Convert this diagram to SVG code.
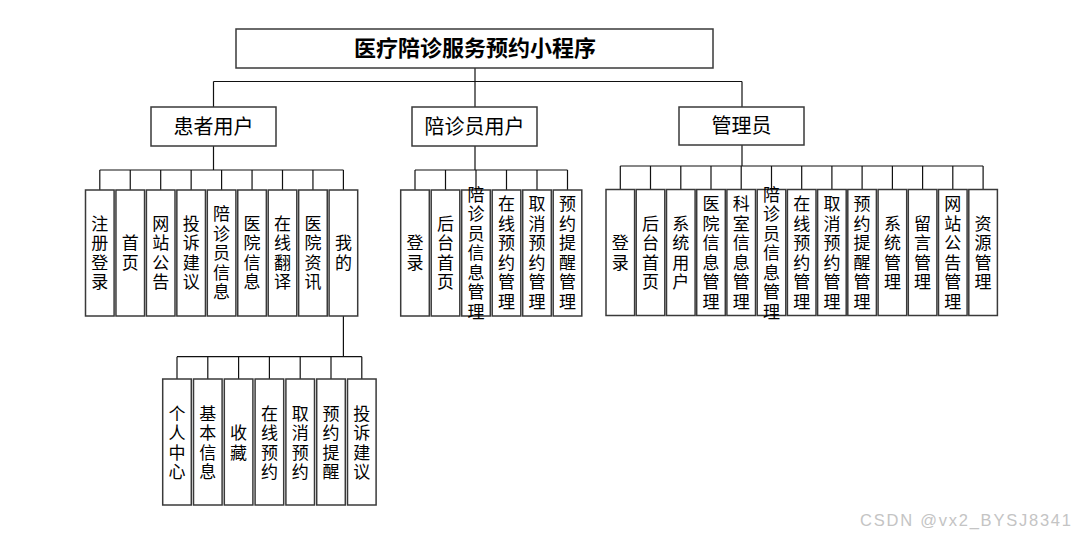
<svg xmlns="http://www.w3.org/2000/svg" width="1079" height="537" viewBox="0 0 1079 537">
<style>
.box{fill:#fff;stroke:#3a3a3a;stroke-width:1.5}
.ln{fill:none;stroke:#111;stroke-width:1.2}
.t{font-family:"Noto Sans CJK SC","Liberation Sans",sans-serif;font-size:17px;fill:#000;text-anchor:middle}
.h{font-family:"Noto Sans CJK SC","Liberation Sans",sans-serif;font-size:20px;fill:#000;text-anchor:middle}
.ti{font-family:"Noto Sans CJK SC","Liberation Sans",sans-serif;font-size:22px;font-weight:bold;fill:#000;text-anchor:middle}
.wm{font-family:"Liberation Sans",Arial,sans-serif;font-size:16.5px;fill:#c4c4c4}
</style>
<rect width="1079" height="537" fill="#fff"/>
<g id="connectors">
<path class="ln" d="M475 68V107M213.5 81.5H742M213.5 81.5V107M742 81.5V107"/>
<path class="ln" d="M213.5 146V170M99.8 170H343.4M99.8 170V190M130.25 170V190M160.7 170V190M191.15 170V190M221.6 170V190M252.05 170V190M282.5 170V190M312.95 170V190M343.4 170V190"/>
<path class="ln" d="M475 146V170M415 170H567.5M415 170V190M445.5 170V190M476 170V190M506.5 170V190M537 170V190M567.5 170V190"/>
<path class="ln" d="M742 145V166M620.3 166H983.1M620.3 166V189.5M650.5 166V189.5M680.8 166V189.5M711 166V189.5M741.2 166V189.5M771.5 166V189.5M801.7 166V189.5M831.9 166V189.5M862.1 166V189.5M892.4 166V189.5M922.6 166V189.5M952.8 166V189.5M983.1 166V189.5"/>
<path class="ln" d="M343.4 316V356.7M177 356.7H361.8M177 356.7V379M207.8 356.7V379M238.6 356.7V379M269.4 356.7V379M300.2 356.7V379M331 356.7V379M361.8 356.7V379"/>
</g>
<g id="root"><rect class="box" x="236" y="29" width="477" height="39"/><text class="ti" x="475" y="56">医疗陪诊服务预约小程序</text></g>
<g id="patient"><rect class="box" x="151" y="107" width="125" height="39"/><text class="h" x="213.5" y="133.5">患者用户</text></g>
<g id="companion"><rect class="box" x="412" y="107" width="125" height="39"/><text class="h" x="474.5" y="133.5">陪诊员用户</text></g>
<g id="admin"><rect class="box" x="679" y="107" width="125" height="38"/><text class="h" x="741.5" y="133">管理员</text></g>

<g id="p1"><rect class="box" x="85.5" y="190" width="28.6" height="126"/><text class="t" x="99.8" y="229.75"><tspan x="99.8">注</tspan><tspan x="99.8" dy="19.5">册</tspan><tspan x="99.8" dy="19.5">登</tspan><tspan x="99.8" dy="19.5">录</tspan></text></g>
<g id="p2"><rect class="box" x="115.95" y="190" width="28.6" height="126"/><text class="t" x="130.25" y="249.25"><tspan x="130.25">首</tspan><tspan x="130.25" dy="19.5">页</tspan></text></g>
<g id="p3"><rect class="box" x="146.4" y="190" width="28.6" height="126"/><text class="t" x="160.7" y="229.75"><tspan x="160.7">网</tspan><tspan x="160.7" dy="19.5">站</tspan><tspan x="160.7" dy="19.5">公</tspan><tspan x="160.7" dy="19.5">告</tspan></text></g>
<g id="p4"><rect class="box" x="176.85" y="190" width="28.6" height="126"/><text class="t" x="191.15" y="229.75"><tspan x="191.15">投</tspan><tspan x="191.15" dy="19.5">诉</tspan><tspan x="191.15" dy="19.5">建</tspan><tspan x="191.15" dy="19.5">议</tspan></text></g>
<g id="p5"><rect class="box" x="207.3" y="190" width="28.6" height="126"/><text class="t" x="221.6" y="220"><tspan x="221.6">陪</tspan><tspan x="221.6" dy="19.5">诊</tspan><tspan x="221.6" dy="19.5">员</tspan><tspan x="221.6" dy="19.5">信</tspan><tspan x="221.6" dy="19.5">息</tspan></text></g>
<g id="p6"><rect class="box" x="237.75" y="190" width="28.6" height="126"/><text class="t" x="252.05" y="229.75"><tspan x="252.05">医</tspan><tspan x="252.05" dy="19.5">院</tspan><tspan x="252.05" dy="19.5">信</tspan><tspan x="252.05" dy="19.5">息</tspan></text></g>
<g id="p7"><rect class="box" x="268.2" y="190" width="28.6" height="126"/><text class="t" x="282.5" y="229.75"><tspan x="282.5">在</tspan><tspan x="282.5" dy="19.5">线</tspan><tspan x="282.5" dy="19.5">翻</tspan><tspan x="282.5" dy="19.5">译</tspan></text></g>
<g id="p8"><rect class="box" x="298.65" y="190" width="28.6" height="126"/><text class="t" x="312.95" y="229.75"><tspan x="312.95">医</tspan><tspan x="312.95" dy="19.5">院</tspan><tspan x="312.95" dy="19.5">资</tspan><tspan x="312.95" dy="19.5">讯</tspan></text></g>
<g id="p9"><rect class="box" x="329.1" y="190" width="28.6" height="126"/><text class="t" x="343.4" y="249.25"><tspan x="343.4">我</tspan><tspan x="343.4" dy="19.5">的</tspan></text></g>

<g id="s1"><rect class="box" x="162.7" y="379" width="28.6" height="126"/><text class="t" x="177" y="419.75"><tspan x="177">个</tspan><tspan x="177" dy="19.5">人</tspan><tspan x="177" dy="19.5">中</tspan><tspan x="177" dy="19.5">心</tspan></text></g>
<g id="s2"><rect class="box" x="193.5" y="379" width="28.6" height="126"/><text class="t" x="207.8" y="419.75"><tspan x="207.8">基</tspan><tspan x="207.8" dy="19.5">本</tspan><tspan x="207.8" dy="19.5">信</tspan><tspan x="207.8" dy="19.5">息</tspan></text></g>
<g id="s3"><rect class="box" x="224.3" y="379" width="28.6" height="126"/><text class="t" x="238.6" y="439.25"><tspan x="238.6">收</tspan><tspan x="238.6" dy="19.5">藏</tspan></text></g>
<g id="s4"><rect class="box" x="255.1" y="379" width="28.6" height="126"/><text class="t" x="269.4" y="419.75"><tspan x="269.4">在</tspan><tspan x="269.4" dy="19.5">线</tspan><tspan x="269.4" dy="19.5">预</tspan><tspan x="269.4" dy="19.5">约</tspan></text></g>
<g id="s5"><rect class="box" x="285.9" y="379" width="28.6" height="126"/><text class="t" x="300.2" y="419.75"><tspan x="300.2">取</tspan><tspan x="300.2" dy="19.5">消</tspan><tspan x="300.2" dy="19.5">预</tspan><tspan x="300.2" dy="19.5">约</tspan></text></g>
<g id="s6"><rect class="box" x="316.7" y="379" width="28.6" height="126"/><text class="t" x="331" y="419.75"><tspan x="331">预</tspan><tspan x="331" dy="19.5">约</tspan><tspan x="331" dy="19.5">提</tspan><tspan x="331" dy="19.5">醒</tspan></text></g>
<g id="s7"><rect class="box" x="347.5" y="379" width="28.6" height="126"/><text class="t" x="361.8" y="419.75"><tspan x="361.8">投</tspan><tspan x="361.8" dy="19.5">诉</tspan><tspan x="361.8" dy="19.5">建</tspan><tspan x="361.8" dy="19.5">议</tspan></text></g>

<g id="c1"><rect class="box" x="400.7" y="190" width="28.6" height="126"/><text class="t" x="415" y="249.25"><tspan x="415">登</tspan><tspan x="415" dy="19.5">录</tspan></text></g>
<g id="c2"><rect class="box" x="431.2" y="190" width="28.6" height="126"/><text class="t" x="445.5" y="229.75"><tspan x="445.5">后</tspan><tspan x="445.5" dy="19.5">台</tspan><tspan x="445.5" dy="19.5">首</tspan><tspan x="445.5" dy="19.5">页</tspan></text></g>
<g id="c3"><rect class="box" x="461.7" y="190" width="28.6" height="126"/><text class="t" x="476" y="200.5"><tspan x="476">陪</tspan><tspan x="476" dy="19.5">诊</tspan><tspan x="476" dy="19.5">员</tspan><tspan x="476" dy="19.5">信</tspan><tspan x="476" dy="19.5">息</tspan><tspan x="476" dy="19.5">管</tspan><tspan x="476" dy="19.5">理</tspan></text></g>
<g id="c4"><rect class="box" x="492.2" y="190" width="28.6" height="126"/><text class="t" x="506.5" y="210.25"><tspan x="506.5">在</tspan><tspan x="506.5" dy="19.5">线</tspan><tspan x="506.5" dy="19.5">预</tspan><tspan x="506.5" dy="19.5">约</tspan><tspan x="506.5" dy="19.5">管</tspan><tspan x="506.5" dy="19.5">理</tspan></text></g>
<g id="c5"><rect class="box" x="522.7" y="190" width="28.6" height="126"/><text class="t" x="537" y="210.25"><tspan x="537">取</tspan><tspan x="537" dy="19.5">消</tspan><tspan x="537" dy="19.5">预</tspan><tspan x="537" dy="19.5">约</tspan><tspan x="537" dy="19.5">管</tspan><tspan x="537" dy="19.5">理</tspan></text></g>
<g id="c6"><rect class="box" x="553.2" y="190" width="28.6" height="126"/><text class="t" x="567.5" y="210.25"><tspan x="567.5">预</tspan><tspan x="567.5" dy="19.5">约</tspan><tspan x="567.5" dy="19.5">提</tspan><tspan x="567.5" dy="19.5">醒</tspan><tspan x="567.5" dy="19.5">管</tspan><tspan x="567.5" dy="19.5">理</tspan></text></g>

<g id="a1"><rect class="box" x="606" y="189.5" width="28.6" height="126"/><text class="t" x="620.3" y="249.25"><tspan x="620.3">登</tspan><tspan x="620.3" dy="19.5">录</tspan></text></g>
<g id="a2"><rect class="box" x="636.2" y="189.5" width="28.6" height="126"/><text class="t" x="650.5" y="229.75"><tspan x="650.5">后</tspan><tspan x="650.5" dy="19.5">台</tspan><tspan x="650.5" dy="19.5">首</tspan><tspan x="650.5" dy="19.5">页</tspan></text></g>
<g id="a3"><rect class="box" x="666.5" y="189.5" width="28.6" height="126"/><text class="t" x="680.8" y="229.75"><tspan x="680.8">系</tspan><tspan x="680.8" dy="19.5">统</tspan><tspan x="680.8" dy="19.5">用</tspan><tspan x="680.8" dy="19.5">户</tspan></text></g>
<g id="a4"><rect class="box" x="696.7" y="189.5" width="28.6" height="126"/><text class="t" x="711" y="210.25"><tspan x="711">医</tspan><tspan x="711" dy="19.5">院</tspan><tspan x="711" dy="19.5">信</tspan><tspan x="711" dy="19.5">息</tspan><tspan x="711" dy="19.5">管</tspan><tspan x="711" dy="19.5">理</tspan></text></g>
<g id="a5"><rect class="box" x="726.9" y="189.5" width="28.6" height="126"/><text class="t" x="741.2" y="210.25"><tspan x="741.2">科</tspan><tspan x="741.2" dy="19.5">室</tspan><tspan x="741.2" dy="19.5">信</tspan><tspan x="741.2" dy="19.5">息</tspan><tspan x="741.2" dy="19.5">管</tspan><tspan x="741.2" dy="19.5">理</tspan></text></g>
<g id="a6"><rect class="box" x="757.2" y="189.5" width="28.6" height="126"/><text class="t" x="771.5" y="200.5"><tspan x="771.5">陪</tspan><tspan x="771.5" dy="19.5">诊</tspan><tspan x="771.5" dy="19.5">员</tspan><tspan x="771.5" dy="19.5">信</tspan><tspan x="771.5" dy="19.5">息</tspan><tspan x="771.5" dy="19.5">管</tspan><tspan x="771.5" dy="19.5">理</tspan></text></g>
<g id="a7"><rect class="box" x="787.4" y="189.5" width="28.6" height="126"/><text class="t" x="801.7" y="210.25"><tspan x="801.7">在</tspan><tspan x="801.7" dy="19.5">线</tspan><tspan x="801.7" dy="19.5">预</tspan><tspan x="801.7" dy="19.5">约</tspan><tspan x="801.7" dy="19.5">管</tspan><tspan x="801.7" dy="19.5">理</tspan></text></g>
<g id="a8"><rect class="box" x="817.6" y="189.5" width="28.6" height="126"/><text class="t" x="831.9" y="210.25"><tspan x="831.9">取</tspan><tspan x="831.9" dy="19.5">消</tspan><tspan x="831.9" dy="19.5">预</tspan><tspan x="831.9" dy="19.5">约</tspan><tspan x="831.9" dy="19.5">管</tspan><tspan x="831.9" dy="19.5">理</tspan></text></g>
<g id="a9"><rect class="box" x="847.8" y="189.5" width="28.6" height="126"/><text class="t" x="862.1" y="210.25"><tspan x="862.1">预</tspan><tspan x="862.1" dy="19.5">约</tspan><tspan x="862.1" dy="19.5">提</tspan><tspan x="862.1" dy="19.5">醒</tspan><tspan x="862.1" dy="19.5">管</tspan><tspan x="862.1" dy="19.5">理</tspan></text></g>
<g id="a10"><rect class="box" x="878.1" y="189.5" width="28.6" height="126"/><text class="t" x="892.4" y="229.75"><tspan x="892.4">系</tspan><tspan x="892.4" dy="19.5">统</tspan><tspan x="892.4" dy="19.5">管</tspan><tspan x="892.4" dy="19.5">理</tspan></text></g>
<g id="a11"><rect class="box" x="908.3" y="189.5" width="28.6" height="126"/><text class="t" x="922.6" y="229.75"><tspan x="922.6">留</tspan><tspan x="922.6" dy="19.5">言</tspan><tspan x="922.6" dy="19.5">管</tspan><tspan x="922.6" dy="19.5">理</tspan></text></g>
<g id="a12"><rect class="box" x="938.5" y="189.5" width="28.6" height="126"/><text class="t" x="952.8" y="210.25"><tspan x="952.8">网</tspan><tspan x="952.8" dy="19.5">站</tspan><tspan x="952.8" dy="19.5">公</tspan><tspan x="952.8" dy="19.5">告</tspan><tspan x="952.8" dy="19.5">管</tspan><tspan x="952.8" dy="19.5">理</tspan></text></g>
<g id="a13"><rect class="box" x="968.8" y="189.5" width="28.6" height="126"/><text class="t" x="983.1" y="229.75"><tspan x="983.1">资</tspan><tspan x="983.1" dy="19.5">源</tspan><tspan x="983.1" dy="19.5">管</tspan><tspan x="983.1" dy="19.5">理</tspan></text></g>

<text class="wm" x="860" y="525.5" textLength="211" lengthAdjust="spacing">CSDN @vx2_BYSJ8341</text>
</svg>
